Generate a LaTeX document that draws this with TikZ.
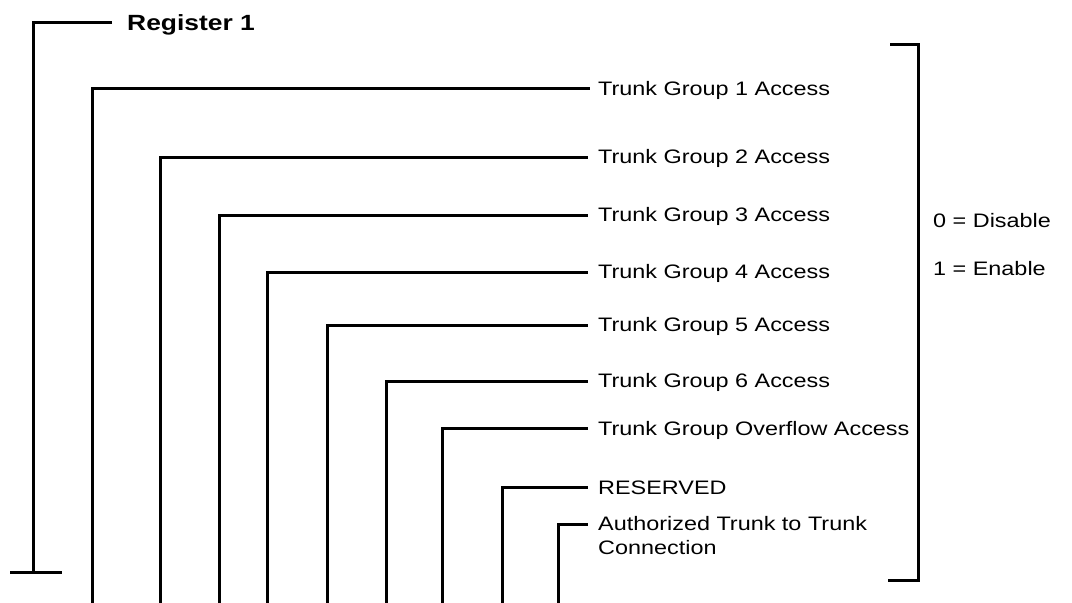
\documentclass[tikz,border=0pt]{standalone}
\usepackage{fontspec}
\setmainfont{Liberation Sans}[FakeStretch=1.2]
\begin{document}
\begin{tikzpicture}[x=1pt,y=-1pt,
  wire/.style={line width=3pt,line join=miter},
  lbl/.style={anchor=base west,inner sep=0pt,font=\fontsize{19.5}{24}\selectfont},
  reglbl/.style={anchor=base west,inner sep=0pt,font=\fontsize{22}{26}\selectfont\bfseries}]
\useasboundingbox (0,0) rectangle (1072,603);
% Register label and its bracket
\node[reglbl] (reg) at (127,30) {Register 1};
\coordinate (rtop) at (112,22);
\coordinate (rbot) at (33,572);
\coordinate (rtl) at (10,572);
\coordinate (rtr) at (62,572);
\draw[wire] (rtop) -- (rtop -| rbot) -- (rbot);
\draw[wire] (rtl) -- (rtr);
% bit labels
\node[lbl] (t1) at (598,95) {Trunk Group 1 Access};
\node[lbl] (t2) at (598,163) {Trunk Group 2 Access};
\node[lbl] (t3) at (598,221) {Trunk Group 3 Access};
\node[lbl] (t4) at (598,278) {Trunk Group 4 Access};
\node[lbl] (t5) at (598,331) {Trunk Group 5 Access};
\node[lbl] (t6) at (598,387) {Trunk Group 6 Access};
\node[lbl] (t7) at (598,435) {Trunk Group Overflow Access};
\node[lbl] (t8) at (598,494) {RESERVED};
\node[lbl,align=left,anchor=north west] (t9) at (598,516) {Authorized Trunk to Trunk\\Connection};
% line ends
\coordinate (e1) at (590,88);
\coordinate (e2) at (588,157);
\coordinate (e3) at (588,215);
\coordinate (e4) at (588,272);
\coordinate (e5) at (588,325);
\coordinate (e6) at (588,381);
\coordinate (e7) at (588,428);
\coordinate (e8) at (588,487);
\coordinate (e9) at (588,524);
% bottom ends
\coordinate (b1) at (92,604);
\coordinate (b2) at (160,604);
\coordinate (b3) at (219,604);
\coordinate (b4) at (267,604);
\coordinate (b5) at (327,604);
\coordinate (b6) at (386,604);
\coordinate (b7) at (442,604);
\coordinate (b8) at (502,604);
\coordinate (b9) at (558,604);
\foreach \i in {1,...,9} { \draw[wire] (b\i) |- (e\i); }
% right bracket
\coordinate (kt) at (890,44);
\coordinate (kb) at (888,580);
\coordinate (kx) at (918,44);
\draw[wire] (kt) -- (kx) -- (kx |- kb) -- (kb);
\node[lbl] (d0) at (933,227) {0 = Disable};
\node[lbl] (d1) at (933,275) {1 = Enable};
\end{tikzpicture}
\end{document}
